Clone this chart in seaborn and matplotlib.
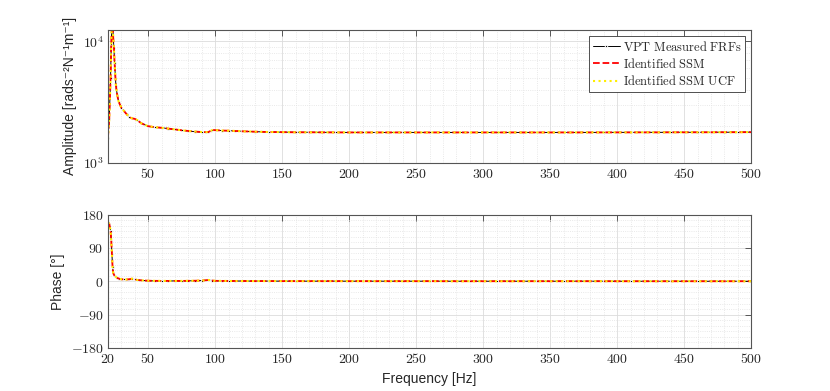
import numpy as np
import pandas as pd
import seaborn as sns
import matplotlib
matplotlib.use('Agg')
import matplotlib.pyplot as plt
from matplotlib.ticker import FuncFormatter, MultipleLocator, LogLocator, NullFormatter

# frequency points [Hz]
freq = [20, 21, 22, 22.5, 23, 23.5, 24, 24.5, 25, 26, 27, 28,
        30, 32, 34, 36, 38, 40, 42, 45,
        50, 55, 60, 65, 70, 75, 80, 85, 90,
        93, 95, 97, 98, 100,
        105, 110, 115, 120, 130, 140, 150,
        160, 170, 180, 190, 200, 210, 220, 230, 240, 250, 260, 270,
        280, 290, 300, 310, 320, 330, 340, 350, 360, 370, 380, 390,
        400, 410, 420, 430, 440, 450, 460, 470, 480, 490, 500]

# amplitude [rad s^-2 N^-1 m^-1]
amp_vpt = [1600, 2300, 5000, 9500, 14000, 15000, 10500, 8900, 6600, 4300, 3600, 3200,
           2850, 2680, 2520, 2390, 2330, 2320, 2250, 2120,
           2010, 1970, 1950, 1920, 1890, 1860, 1835, 1810, 1795,
           1785, 1785, 1850, 1875, 1865,
           1850, 1845, 1835, 1825, 1810, 1800, 1795,
           1790, 1790, 1788, 1786, 1785, 1785, 1785, 1785, 1785, 1785, 1785, 1785,
           1785, 1785, 1785, 1785, 1785, 1785, 1785, 1785, 1785, 1785, 1786, 1786,
           1787, 1787, 1788, 1788, 1789, 1790, 1790, 1791, 1792, 1793, 1795]
amp_ssm = [1600, 2300, 5000, 9500, 14000, 15000, 10500, 8900, 6600, 4300, 3600, 3200,
           2850, 2680, 2520, 2390, 2330, 2310, 2250, 2120,
           2010, 1970, 1950, 1920, 1890, 1860, 1835, 1815, 1800,
           1795, 1800, 1845, 1870, 1865,
           1850, 1845, 1835, 1825, 1810, 1800, 1795,
           1790, 1790, 1788, 1786, 1785, 1785, 1785, 1785, 1785, 1785, 1785, 1785,
           1785, 1785, 1785, 1785, 1785, 1785, 1785, 1785, 1785, 1785, 1786, 1786,
           1787, 1787, 1788, 1788, 1789, 1790, 1790, 1791, 1792, 1793, 1795]
amp_ucf = list(amp_ssm)

# phase [deg]
phase_vpt = [159, 155, 137, 110, 74, 38, 22, 18, 15, 12, 9, 7.5,
             5.5, 5, 5, 5.5, 7.5, 5, 3.5, 2.5,
             1.5, 1.2, 1, 1, 1, 1, 1.2, 1.5, 2,
             3, 4, 3, 2, 1.2,
             1, 0.8, 0.8, 0.7, 0.6, 0.5, 0.5,
             0.4, 0.4, 0.4, 0.4, 0.3, 0.3, 0.3, 0.3, 0.3, 0.3, 0.3, 0.3,
             0.2, 0.2, 0.2, 0.2, 0.2, 0.2, 0.2, 0.2, 0.2, 0.2, 0.2, 0.2,
             0.1, 0.1, 0.1, 0.1, 0.1, 0.1, 0.1, 0.1, 0.1, 0.1, 0.1]
phase_ssm = [159, 155, 137, 110, 74, 38, 22, 18, 15, 12, 9, 7.5,
             5.5, 5, 5, 5.5, 7, 5, 3.5, 2.5,
             1.5, 1.2, 1, 1, 1, 1, 1.2, 1.5, 2,
             2.8, 3.5, 3, 2, 1.2,
             1, 0.8, 0.8, 0.7, 0.6, 0.5, 0.5,
             0.4, 0.4, 0.4, 0.4, 0.3, 0.3, 0.3, 0.3, 0.3, 0.3, 0.3, 0.3,
             0.2, 0.2, 0.2, 0.2, 0.2, 0.2, 0.2, 0.2, 0.2, 0.2, 0.2, 0.2,
             0.1, 0.1, 0.1, 0.1, 0.1, 0.1, 0.1, 0.1, 0.1, 0.1, 0.1]
phase_ucf = list(phase_ssm)

labels = [r'$\mathrm{VPT\ Measured\ FRFs}$', r'$\mathrm{Identified\ SSM}$',
          r'$\mathrm{Identified\ SSM\ UCF}$']

df = pd.DataFrame({'freq': freq,
                   'amp_vpt': amp_vpt, 'amp_ssm': amp_ssm, 'amp_ucf': amp_ucf,
                   'phase_vpt': phase_vpt, 'phase_ssm': phase_ssm, 'phase_ucf': phase_ucf})

sns.set_style('white')
plt.rcParams['mathtext.fontset'] = 'cm'
sans = ['Liberation Sans', 'DejaVu Sans']
plt.rcParams['font.family'] = sans

fig = plt.figure(figsize=(8.3, 3.91), dpi=100)
ax1 = fig.add_axes([0.13, 0.583, 0.775, 0.3412])
ax2 = fig.add_axes([0.13, 0.11, 0.775, 0.3412])

styles = [dict(color='black', lw=0.7, ls='-', marker='.', markersize=3.5),
          dict(color='#ff0000', lw=1.3, ls='--'),
          dict(color='#ffee00', lw=1.5, ls=':')]

for col, st, lab in zip(['amp_vpt', 'amp_ssm', 'amp_ucf'], styles, labels):
    sns.lineplot(data=df, x='freq', y=col, ax=ax1, label=lab,
                 estimator=None, sort=False, **st)
for col, st in zip(['phase_vpt', 'phase_ssm', 'phase_ucf'], styles):
    sns.lineplot(data=df, x='freq', y=col, ax=ax2, legend=False,
                 estimator=None, sort=False, **st)

cm_fmt = FuncFormatter(lambda v, p: r'$%g$' % v)

ax1.set_yscale('log')
ax1.set_xlim(20, 500)
ax1.set_ylim(1e3, 1.25e4)
ax1.set_xticks([50, 100, 150, 200, 250, 300, 350, 400, 450, 500])
ax1.xaxis.set_major_formatter(cm_fmt)
ax1.yaxis.set_major_locator(LogLocator(base=10, numticks=5))
ax1.yaxis.set_major_formatter(FuncFormatter(lambda v, p: r'$10^{%d}$' % round(np.log10(v))))
ax1.yaxis.set_minor_locator(LogLocator(base=10, subs=np.arange(2, 10), numticks=20))
ax1.yaxis.set_minor_formatter(NullFormatter())
ax1.set_xlabel('')
ax1.set_ylabel('Amplitude [rads⁻²N⁻¹m⁻¹]', fontsize=10, family=sans)

ax2.set_xlim(20, 500)
ax2.set_ylim(-180, 180)
ax2.set_xticks([20, 50, 100, 150, 200, 250, 300, 350, 400, 450, 500])
ax2.set_yticks([-180, -90, 0, 90, 180])
ax2.xaxis.set_major_formatter(cm_fmt)
ax2.yaxis.set_major_formatter(cm_fmt)
ax2.yaxis.set_minor_locator(MultipleLocator(15))
ax2.set_xlabel('Frequency [Hz]', fontsize=10, family=sans)
ax2.set_ylabel('Phase [°]', fontsize=10, family=sans)

for ax in (ax1, ax2):
    ax.xaxis.set_minor_locator(MultipleLocator(10))
    ax.grid(True, which='major', color='#dcdcdc', lw=0.6, ls='-')
    ax.grid(True, which='minor', color='#e2e2e2', lw=0.6, ls=':')
    ax.set_axisbelow(True)
    ax.tick_params(which='major', direction='in', top=True, right=True,
                   length=4, width=0.6, color='#404040', labelsize=10, pad=3)
    ax.tick_params(which='minor', length=0)
    for s in ax.spines.values():
        s.set_visible(True)
        s.set_color('#555555')
        s.set_linewidth(0.8)

leg = ax1.legend(loc='upper right', fontsize=9, frameon=True, fancybox=False,
                 edgecolor='#333333', framealpha=1, borderpad=0.3,
                 handlelength=2.2, handletextpad=0.2, labelspacing=0.25,
                 borderaxespad=0.5)
leg.get_frame().set_linewidth(0.6)

fig.savefig('out.png', dpi=100)
